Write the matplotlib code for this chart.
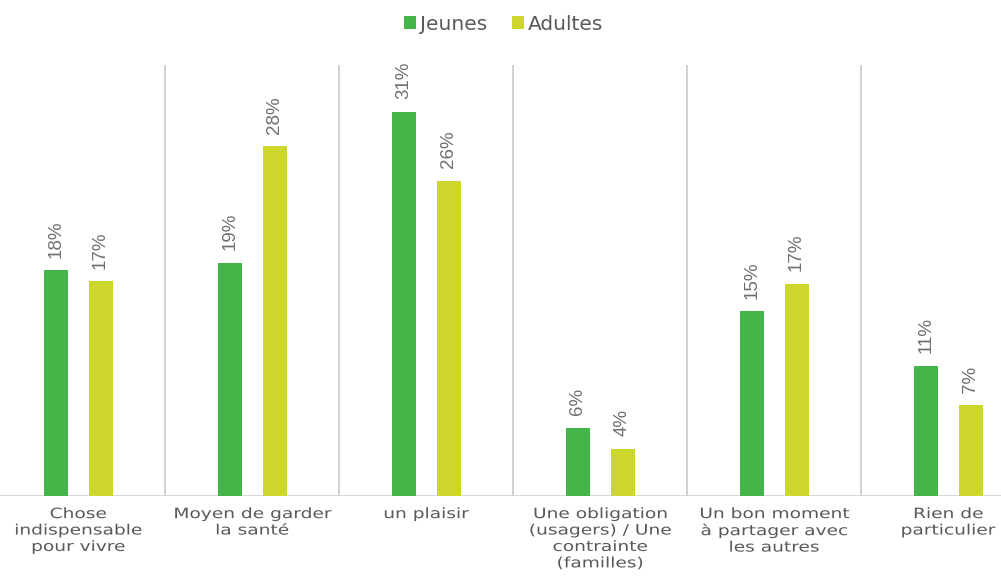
import matplotlib

matplotlib.use("Agg")
import matplotlib.pyplot as plt
import matplotlib.patheffects as pe
from matplotlib.transforms import Affine2D
import numpy as np

GREEN = "#44b649"
YELLOW = "#cdd62a"
TEXT = "#595959"
LINE = "#c9c9c9"

categories = [
    "Chose\nindispensable\npour vivre",
    "Moyen de garder\nla santé",
    "un plaisir",
    "Une obligation\n(usagers) / Une\ncontrainte\n(familles)",
    "Un bon moment\nà partager avec\nles autres",
    "Rien de\nparticulier",
]
jeunes = [18.2, 18.8, 31.0, 5.5, 14.9, 10.5]
adultes = [17.3, 28.2, 25.4, 3.8, 17.1, 7.3]
jeunes_labels = ["18%", "19%", "31%", "6%", "15%", "11%"]
adultes_labels = ["17%", "28%", "26%", "4%", "17%", "7%"]


class Widen(pe.AbstractPathEffect):
    """Stretch each text line horizontally around its own centre
    (rough stand-in for the wide letter spacing of the original)."""

    def __init__(self, sx):
        super().__init__()
        self.sx = sx

    def draw_path(self, renderer, gc, tpath, affine, rgbFace=None):
        xs = tpath.vertices[:, 0]
        c = (xs.min() + xs.max()) / 2 if len(xs) else 0
        stretch = Affine2D().translate(-c, 0).scale(self.sx, 1).translate(c, 0)
        renderer.draw_path(gc, tpath, stretch + affine, rgbFace)


fig = plt.figure(figsize=(10.01, 5.76), dpi=100)
# plot area runs a bit past the figure edges, like the original crop
ax = fig.add_axes([-9 / 1001, 1 - 496 / 576, 1044 / 1001, 431 / 576])

x = np.arange(len(categories))
w = 0.138
b1 = ax.bar(x - 0.128, jeunes, w, color=GREEN, label="Jeunes", zorder=3)
b2 = ax.bar(x + 0.13, adultes, w, color=YELLOW, label="Adultes", zorder=3)

for bars, labels in ((b1, jeunes_labels), (b2, adultes_labels)):
    for bar, lab in zip(bars, labels):
        ax.annotate(lab, (bar.get_x() + bar.get_width() / 2, bar.get_height()),
                    xytext=(0, 9), textcoords="offset points", rotation=90,
                    ha="center", va="bottom", fontsize=13.5, color="#707070",
                    family="Liberation Sans")

for sep in x[:-1] + 0.5:
    ax.axvline(sep, color=LINE, lw=1.2, zorder=1)
ax.axhline(0, color="#d0d0d0", lw=1.2, zorder=2)

ax.set_xlim(-0.5, len(categories) - 0.5)
ax.set_ylim(0, 34.75)
ax.set_xticks(x)
ax.set_xticklabels(categories, fontsize=10.3, color=TEXT, linespacing=1.22)
for t in ax.get_xticklabels():
    t.set_path_effects([Widen(1.3)])
ax.tick_params(axis="x", length=0, pad=8)
ax.set_yticks([])
for s in ax.spines.values():
    s.set_visible(False)

fig.legend(handles=[b1, b2], loc="center", bbox_to_anchor=(0.503, 1 - 24 / 576),
           ncol=2, frameon=False, fontsize=14.5, labelcolor=TEXT,
           handlelength=0.6, handleheight=0.6, handletextpad=0.2,
           columnspacing=1.2)

fig.savefig("out.png", dpi=100, facecolor="white")
